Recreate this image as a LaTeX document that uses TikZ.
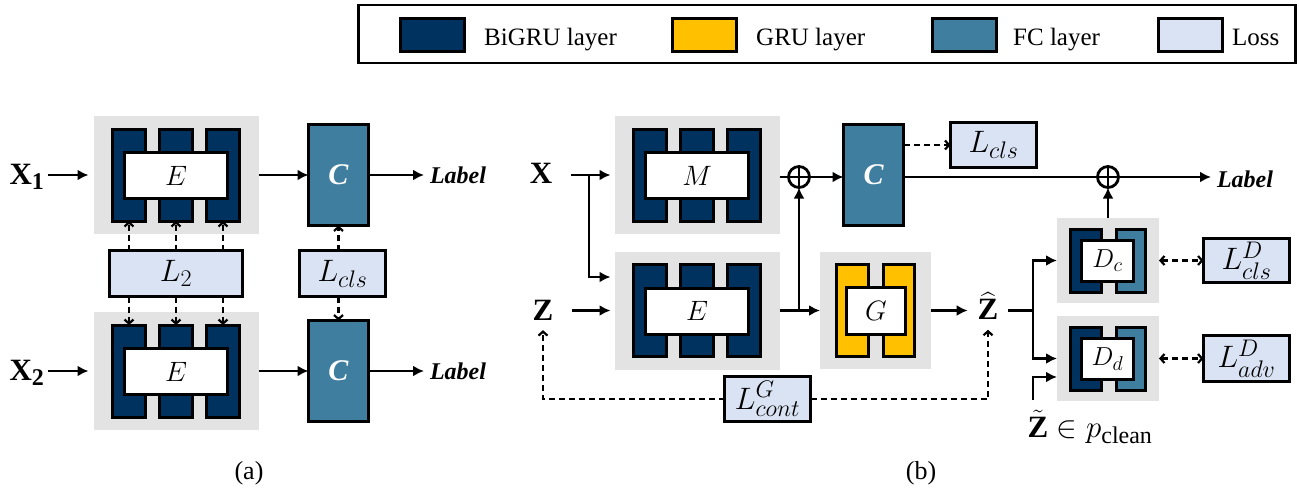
\RequirePackage{fix-cm}
\documentclass[tikz,border=0pt]{standalone}
\usepackage{amsmath}
\usepackage{fontspec}
\setmainfont{Liberation Serif}
\usetikzlibrary{arrows.meta,calc}

\newcommand\setfs[1]{\fontsize{#1}{#1}\selectfont}
% larger sub- and superscripts for the loss and layer labels
\DeclareMathSizes{31}{31}{24}{17}
\DeclareMathSizes{28}{28}{21}{15}
\DeclareMathSizes{26}{26}{20}{14}

\definecolor{bigru}{RGB}{0,50,96}
\definecolor{gru}{RGB}{255,192,0}
\definecolor{fc}{RGB}{64,126,160}
\definecolor{loss}{RGB}{218,227,243}
\definecolor{panelgray}{RGB}{227,227,227}

\tikzset{
  panelbox/.style={fill=panelgray, draw=none, inner sep=0pt, outer sep=0pt},
  blk/.style={draw=black, line width=3pt, inner sep=0pt, outer sep=0pt},
  bigrublk/.style={blk, fill=bigru},
  grublk/.style={blk, fill=gru},
  fcblk/.style={blk, fill=fc},
  inbox/.style={blk, fill=white},
  lossbox/.style={blk, fill=loss, minimum width=86pt, minimum height=45pt, font=\setfs{31}},
  clsbox/.style={fcblk, minimum width=60pt, minimum height=101pt, text=white, font=\setfs{30}\bfseries\itshape},
  lbl/.style={inner sep=6pt, outer sep=0pt, font=\setfs{24}\bfseries\itshape},
  sym/.style={inner sep=10pt, outer sep=0pt, font=\setfs{31}},
  arr/.style={line width=2.8pt, -{Latex[length=11pt,width=11pt]}},
  plain/.style={line width=2.8pt},
  dasharr/.style={line width=2.2pt, dash pattern=on 6pt off 4pt, -{Straight Barb[length=4pt,width=9pt]}},
  bidash/.style={line width=2.2pt, dash pattern=on 6pt off 4pt, {Straight Barb[length=4pt,width=9pt]}-{Straight Barb[length=4pt,width=9pt]}},
  sumnode/.style={circle, draw=black, line width=2.8pt, minimum size=21pt, inner sep=0pt, outer sep=0pt},
  legendtxt/.style={anchor=base west, inner sep=0pt, font=\setfs{25}},
  swatch/.style={blk, minimum width=64pt, minimum height=33pt},
}

% BiGRU encoder: grey panel, three BiGRU layers and a white label box
\newcommand\encoder[4]{%
  \node[panelbox, minimum width=165pt, minimum height=118pt] (#1) at (#2,#3) {};
  \node[bigrublk, minimum width=33pt, minimum height=92pt] (#1-1) at ($(#1)+(-47,0)$) {};
  \node[bigrublk, minimum width=33pt, minimum height=92pt] (#1-2) at (#1) {};
  \node[bigrublk, minimum width=33pt, minimum height=92pt] (#1-3) at ($(#1)+(47,0)$) {};
  \node[inbox, minimum width=103pt, minimum height=46pt, font=\setfs{28}] (#1-in) at ($(#1)+(0,0.5)$) {$#4$};
}
% GRU generator: grey panel, two GRU layers and a white label box
\newcommand\generator[4]{%
  \node[panelbox, minimum width=111pt, minimum height=117pt] (#1) at (#2,#3) {};
  \node[grublk, minimum width=32pt, minimum height=92pt] (#1-1) at ($(#1)+(-23,0)$) {};
  \node[grublk, minimum width=31pt, minimum height=92pt] (#1-2) at ($(#1)+(23.5,0)$) {};
  \node[inbox, minimum width=59pt, minimum height=47pt, font=\setfs{28}] (#1-in) at ($(#1)+(0.5,0)$) {$#4$};
}
% Discriminator: grey panel, a BiGRU layer, an FC layer and a white label box
\newcommand\discrim[4]{%
  \node[panelbox, minimum width=102pt, minimum height=85pt] (#1) at (#2,#3) {};
  \node[bigrublk, minimum width=31pt, minimum height=63pt] (#1-1) at ($(#1)+(-22,0)$) {};
  \node[fcblk, minimum width=29pt, minimum height=63pt] (#1-2) at ($(#1)+(23,0)$) {};
  \node[inbox, minimum width=52pt, minimum height=41pt, font=\setfs{26}] (#1-in) at ($(#1)+(-0.5,0.5)$) {$#4$};
}

\begin{document}
\begin{tikzpicture}[x=1pt, y=-1pt]
\useasboundingbox (0,0) rectangle (1299,491);

% ---------------- legend ----------------
\node[draw=black, line width=2.5pt, minimum width=937pt, minimum height=58pt, inner sep=0pt] (legend) at (827,34) {};
\node[swatch, fill=bigru] (sw1) at (432,35) {};
\node[legendtxt] (lt1) at (484,45) {BiGRU layer};
\node[swatch, fill=gru] (sw2) at (704,35) {};
\node[legendtxt] (lt2) at (756,45) {GRU layer};
\node[swatch, fill=fc] (sw3) at (964.5,35) {};
\node[legendtxt] (lt3) at (1013,45) {FC layer};
\node[swatch, fill=loss] (sw4) at (1190,35) {};
\node[legendtxt] (lt4) at (1232,45) {Loss};

% ---------------- (a) ----------------
\encoder{encA}{176}{175}{E}
\encoder{encB}{176}{371}{E}
\node[clsbox] (clsA) at (338.5,175) {C};
\node[clsbox] (clsB) at (338.5,371) {C};
\node[lossbox, minimum width=133pt, minimum height=46pt] (ltwo) at (176,273.5) {$L_2$};
\node[lossbox, minimum height=46pt] (lclsA) at (342.5,273.5) {$L_{cls}$};

\node[inner sep=3pt, font=\setfs{31}] (xone) at (27,177) {$\textbf{X}_{\textbf{1}}$};
\node[inner sep=3pt, font=\setfs{31}] (xtwo) at (27,373) {$\textbf{X}_{\textbf{2}}$};
\node[lbl] (labA) at (458,175) {Label};
\node[lbl] (labB) at (458,371) {Label};

\draw[arr, shorten >=5pt] (xone.east |- encA.west) -- (encA.west);
\draw[arr, shorten >=5pt] (xtwo.east |- encB.west) -- (encB.west);
\draw[arr] (encA.east) -- (clsA.west);
\draw[arr] (encB.east) -- (clsB.west);
\draw[arr] (clsA.east) -- (labA.west);
\draw[arr] (clsB.east) -- (labB.west);
\foreach \i in {1,2,3}{
  \draw[dasharr] (encA-\i.south |- ltwo.north) -- (encA-\i.south);
  \draw[dasharr] (encB-\i.north |- ltwo.south) -- (encB-\i.north);
}
\draw[dasharr] (clsA.south |- lclsA.north) -- (clsA.south);
\draw[dasharr] (clsB.north |- lclsA.south) -- (clsB.north);

\node[inner sep=0pt, font=\setfs{26}] (capA) at (249,473) {(a)};

% ---------------- (b) ----------------
\encoder{encM}{697}{175}{M}
\encoder{encE}{697}{310.5}{E}
\generator{genG}{875.5}{310.5}{G}
\discrim{discC}{1108}{260.5}{D_c}
\discrim{discD}{1108}{358.5}{D_d}
\node[clsbox] (clsC) at (873.5,175) {C};
\node[lossbox] (lclsB) at (993.5,145) {$L_{cls}$};
\node[lossbox, minimum height=44pt] (ldcls) at (1246.5,260.5) {$L^{D}_{cls}$};
\node[lossbox, minimum height=46pt] (ldadv) at (1246.5,358.5) {$L^{D}_{adv}$};
\node[lossbox] (lcont) at (767.5,399) {$L^{G}_{cont}$};

\node[sym] (xin) at (541,173) {\textbf{X}};
\node[sym] (zin) at (543,310) {\textbf{Z}};
\node[sym] (zhat) at (988,306) {$\widehat{\textbf{Z}}$};
\node[inner sep=0pt, font=\setfs{31}] (ztil) at (1090,427) {$\tilde{\textbf{Z}}\in p_{\text{clean}}$};
\node[sumnode] (sumA) at (799,177) {};
\node[sumnode] (sumB) at (1108,177) {};
\draw[plain] (sumA.north) -- (sumA.south) (sumA.west) -- (sumA.east);
\draw[plain] (sumB.north) -- (sumB.south) (sumB.west) -- (sumB.east);
\node[lbl] (labC) at (1245,179) {Label};

\coordinate (xsplit) at (589,175);
\coordinate (einx) at ($(encE.west)+(0,-33.5)$);
\coordinate (esplit) at (sumA |- encE.east);
\coordinate (zsplit) at (1033,310.5);
\coordinate (ztstart) at (1033,400);
\coordinate (ddin) at ($(discD.west)+(0,18.5)$);

\draw[arr, shorten <=9pt, shorten >=4pt] (xin.east |- encM.west) -- (encM.west);
\draw[arr, shorten >=4pt] (xsplit) |- (einx);
\draw[arr, shorten <=9pt, shorten >=4pt] (zin.east |- encE.west) -- (encE.west);
\draw[arr] (encE.east) -- (genG.west);
\draw[arr] (esplit) -- (sumA.south);
\draw[plain] (encM.east |- sumA.west) -- (sumA.west);
\draw[arr] (sumA.east) -- (sumA.east -| clsC.west);
\draw[plain] (clsC.east |- sumB.west) -- (sumB.west);
\draw[arr] (sumB.east) -- (sumB.east -| labC.west);
\draw[dasharr] (clsC.east |- lclsB.west) -- (lclsB.west);
\draw[arr] (discC.north) -- (sumB.south);
\draw[arr] (genG.east) -- (genG.east -| zhat.west);
\draw[plain] (zhat.east |- zsplit) -- (zsplit);
\draw[arr] (zsplit) |- (discC.west);
\draw[arr] (zsplit) |- (discD.west);
\draw[arr] (ztstart) |- (ddin);
\draw[bidash] (discC.east) -- (ldcls.west);
\draw[bidash] (discD.east) -- (ldadv.west);
\draw[dasharr] (lcont.west) -| (zin.south);
\draw[dasharr] (lcont.east) -| (zhat.south);

\node[inner sep=0pt, font=\setfs{26}] (capB) at (921,473) {(b)};
\end{tikzpicture}
\end{document}
